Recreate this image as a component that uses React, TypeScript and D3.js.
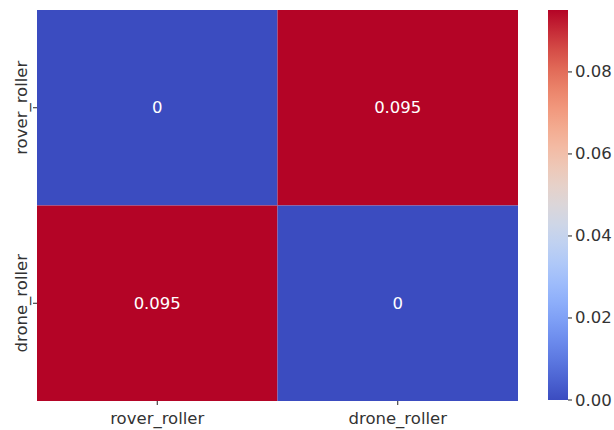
import React from "react";
import * as d3 from "d3";

const rowLabels = ["rover_roller", "drone_roller"];
const colLabels = ["rover_roller", "drone_roller"];
const values = [
  [0, 0.0951],
  [0.0951, 0],
];
const annotations = [
  ["0", "0.095"],
  ["0.095", "0"],
];
const cbTicks = [0.0, 0.02, 0.04, 0.06, 0.08];
const coolwarmStops = [
  "rgb(59,76,192)",
  "rgb(98,130,234)",
  "rgb(141,176,254)",
  "rgb(184,208,249)",
  "rgb(221,220,220)",
  "rgb(245,196,173)",
  "rgb(244,154,123)",
  "rgb(222,96,77)",
  "rgb(180,4,38)",
];

const W = 614;
const H = 430;
const plot = { left: 37, right: 518, top: 10, bottom: 401 };
const cb = { left: 548, right: 568, top: 10, bottom: 400 };
const FONT = "DejaVu Sans, sans-serif";
const FS = 16.5;
const TEXT = "#333333";

export default function App() {
  const vmin = 0;
  const vmax = d3.max(values.flat()) as number;
  const interp = d3.interpolateRgbBasis(coolwarmStops);
  const color = d3.scaleSequential(interp).domain([vmin, vmax]);

  const x = d3.scaleBand<string>().domain(colLabels.map((c, i) => String(i))).range([plot.left, plot.right]).padding(0);
  const y = d3.scaleBand<string>().domain(rowLabels.map((r, i) => String(i))).range([plot.top, plot.bottom]).padding(0);
  const cbY = d3.scaleLinear().domain([vmin, vmax]).range([cb.bottom, cb.top]);

  const gradStops = d3.range(0, 1.0001, 0.05);

  return (
    <svg width={W} height={H} style={{ position: "absolute", left: 0, top: 0, display: "block" }}>
      <defs>
        <linearGradient id="cw" x1="0" y1="1" x2="0" y2="0">
          {gradStops.map((t, i) => (
            <stop key={i} offset={`${t * 100}%`} stopColor={interp(t)} />
          ))}
        </linearGradient>
      </defs>
      <rect x={0} y={0} width={W} height={H} fill="white" />
      {values.map((row, ri) =>
        row.map((v, ci) => (
          <g key={`${ri}-${ci}`}>
            <rect
              x={x(String(ci))}
              y={y(String(ri))}
              width={x.bandwidth()}
              height={y.bandwidth()}
              fill={color(v)}
            />
            <text
              x={(x(String(ci)) as number) + x.bandwidth() / 2}
              y={(y(String(ri)) as number) + y.bandwidth() / 2}
              textAnchor="middle"
              dominantBaseline="central"
              fill="white"
              fontFamily={FONT}
              fontSize={FS}
            >
              {annotations[ri][ci]}
            </text>
          </g>
        ))
      )}
      {/* y ticks */}
      {rowLabels.map((lab, ri) => {
        const cy = (y(String(ri)) as number) + y.bandwidth() / 2;
        return (
          <g key={`yl${ri}`}>
            <line x1={plot.left - 4} x2={plot.left} y1={cy} y2={cy} stroke="#222" strokeWidth={1} />
            <text
              transform={`translate(21,${cy}) rotate(-90)`}
              textAnchor="middle"
              dominantBaseline="central"
              fill={TEXT}
              fontFamily={FONT}
              fontSize={FS}
            >
              {lab}
            </text>
          </g>
        );
      })}
      {/* x ticks */}
      {colLabels.map((lab, ci) => {
        const cx = (x(String(ci)) as number) + x.bandwidth() / 2;
        return (
          <g key={`xl${ci}`}>
            <line x1={cx} x2={cx} y1={plot.bottom} y2={plot.bottom + 4} stroke="#222" strokeWidth={1} />
            <text
              x={cx}
              y={424}
              textAnchor="middle"
              fill={TEXT}
              fontFamily={FONT}
              fontSize={FS}
            >
              {lab}
            </text>
          </g>
        );
      })}
      {/* colorbar */}
      <rect x={cb.left} y={cb.top} width={cb.right - cb.left} height={cb.bottom - cb.top} fill="url(#cw)" />
      {cbTicks.map((t, i) => (
        <g key={`cb${i}`}>
          <line x1={cb.right} x2={cb.right + 4} y1={cbY(t)} y2={cbY(t)} stroke="#222" strokeWidth={1} />
          <text
            x={cb.right + 7}
            y={cbY(t)}
            dominantBaseline="central"
            fill={TEXT}
            fontFamily={FONT}
            fontSize={FS}
          >
            {t.toFixed(2)}
          </text>
        </g>
      ))}
    </svg>
  );
}
